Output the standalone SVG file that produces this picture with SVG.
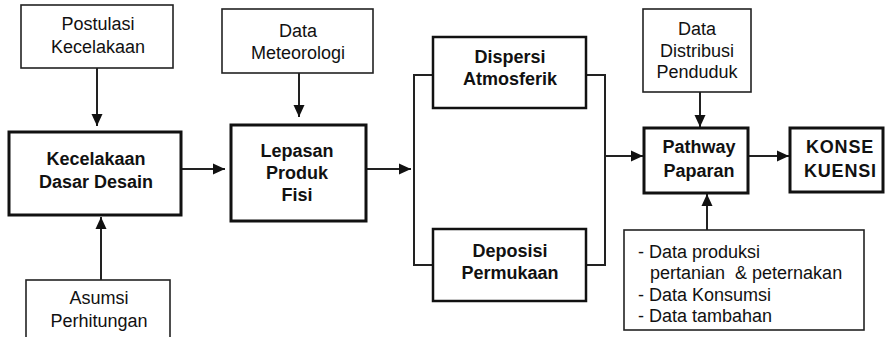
<svg xmlns="http://www.w3.org/2000/svg" width="885" height="337" viewBox="0 0 885 337">
<style>
text{font-family:"Liberation Sans",Arial,sans-serif;font-size:18px;fill:#111;}
.c{text-anchor:middle;}
.b{font-weight:bold;}
.thin{fill:#fff;stroke:#222;stroke-width:1.6;}
.thick{fill:#fff;stroke:#111;stroke-width:3;}
.ln{fill:none;stroke:#222;stroke-width:2;}
</style>
<defs>
<marker id="ah" markerUnits="userSpaceOnUse" markerWidth="12" markerHeight="12" viewBox="0 0 12 12" refX="12" refY="6" orient="auto">
<path d="M0,0.5 L12,6 L0,11.5 Z" fill="#111"/>
</marker>
</defs>
<rect width="885" height="337" fill="#fff"/>
<g id="connectors">
<line class="ln" x1="97" y1="68" x2="97" y2="126" marker-end="url(#ah)"/>
<line class="ln" x1="101" y1="280" x2="101" y2="217" marker-end="url(#ah)"/>
<line class="ln" x1="181" y1="169" x2="225" y2="169" marker-end="url(#ah)"/>
<line class="ln" x1="299" y1="73" x2="299" y2="117" marker-end="url(#ah)"/>
<line class="ln" x1="366" y1="169" x2="411" y2="169" marker-end="url(#ah)"/>
<path class="ln" d="M433,75 H414 V265 H433"/>
<path class="ln" d="M586,75 H605 V265 H586"/>
<line class="ln" x1="605" y1="156" x2="643" y2="156" marker-end="url(#ah)"/>
<line class="ln" x1="700" y1="92" x2="700" y2="127" marker-end="url(#ah)"/>
<line class="ln" x1="748" y1="156" x2="789" y2="156" marker-end="url(#ah)"/>
<line class="ln" x1="707" y1="230" x2="707" y2="194" marker-end="url(#ah)"/>
</g>
<g id="postulasi">
<rect class="thin" x="21" y="5" width="152" height="63"/>
<text class="c" x="98" y="30">Postulasi</text>
<text class="c" x="98" y="53">Kecelakaan</text>
</g>
<g id="kecelakaan">
<rect class="thick" x="9" y="132" width="172" height="83"/>
<text class="c b" x="96" y="165">Kecelakaan</text>
<text class="c b" x="96" y="188">Dasar Desain</text>
</g>
<g id="asumsi">
<rect class="thin" x="26" y="280" width="144" height="70"/>
<text class="c" x="99" y="304">Asumsi</text>
<text class="c" x="99" y="327">Perhitungan</text>
</g>
<g id="meteorologi">
<rect class="thin" x="222" y="9" width="151" height="64"/>
<text class="c" x="298" y="37">Data</text>
<text class="c" x="298" y="59">Meteorologi</text>
</g>
<g id="lepasan">
<rect class="thick" x="231" y="125" width="135" height="96"/>
<text class="c b" x="297" y="157">Lepasan</text>
<text class="c b" x="297" y="179">Produk</text>
<text class="c b" x="297" y="201">Fisi</text>
</g>
<g id="dispersi">
<rect class="thick" x="433" y="37" width="153" height="71" style="stroke-width:2.5"/>
<text class="c b" x="510" y="63">Dispersi</text>
<text class="c b" x="510" y="85">Atmosferik</text>
</g>
<g id="deposisi">
<rect class="thick" x="433" y="229" width="153" height="72" style="stroke-width:2.5"/>
<text class="c b" x="510" y="257">Deposisi</text>
<text class="c b" x="510" y="279">Permukaan</text>
</g>
<g id="distribusi">
<rect class="thin" x="643" y="9" width="108" height="83"/>
<text class="c" x="697" y="35">Data</text>
<text class="c" x="697" y="57">Distribusi</text>
<text class="c" x="697" y="78">Penduduk</text>
</g>
<g id="pathway">
<rect class="thick" x="644" y="128" width="104" height="65"/>
<text class="c b" x="699" y="153">Pathway</text>
<text class="c b" x="699" y="177">Paparan</text>
</g>
<g id="konsekuensi">
<rect class="thick" x="790" y="128" width="93" height="64"/>
<text class="b" x="806" y="153" letter-spacing="0.8">KONSE</text>
<text class="b" x="804" y="177" letter-spacing="0.8">KUENSI</text>
</g>
<g id="data-lain">
<rect class="thin" x="624" y="230" width="240" height="100"/>
<text x="638" y="258">- Data produksi</text>
<text x="650" y="279" xml:space="preserve">pertanian  &amp; peternakan</text>
<text x="638" y="301">- Data Konsumsi</text>
<text x="638" y="322">- Data tambahan</text>
</g>
</svg>
